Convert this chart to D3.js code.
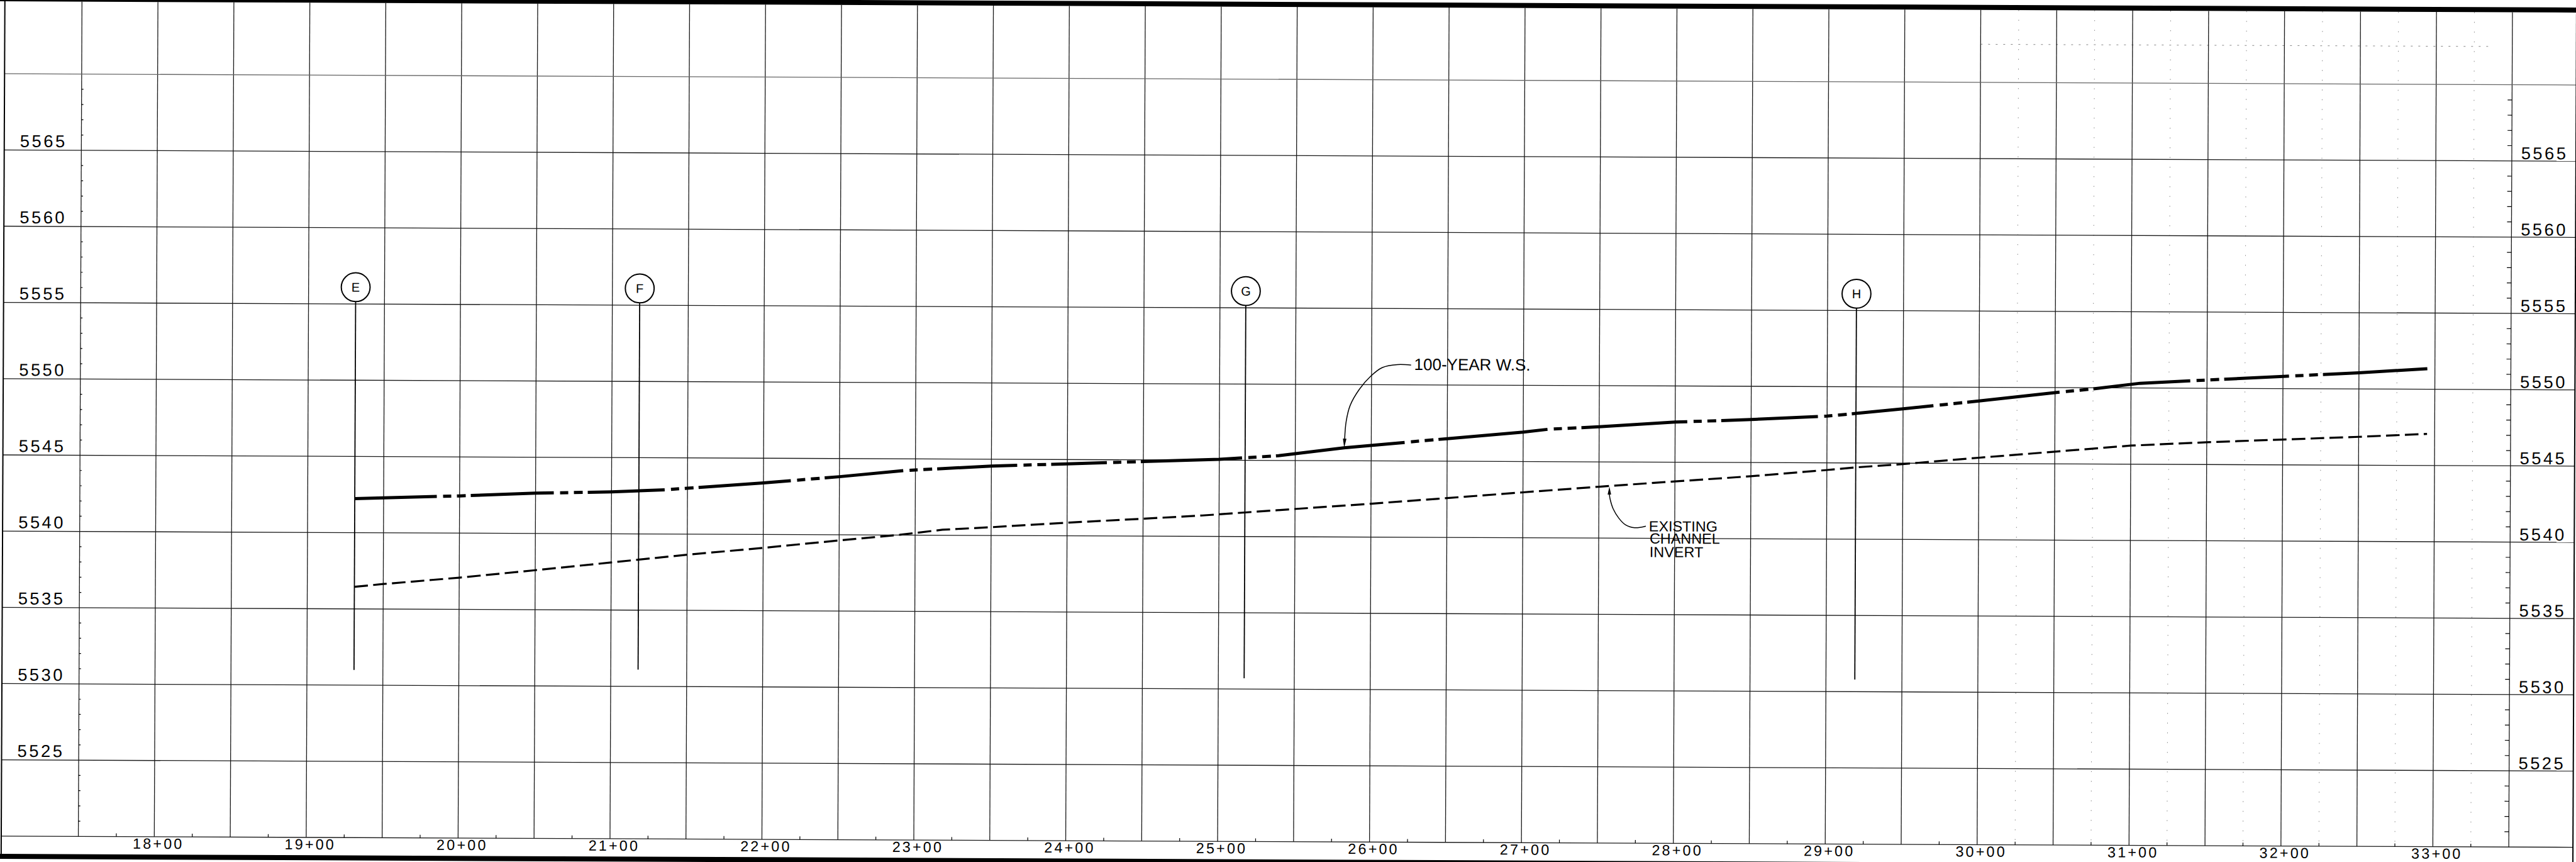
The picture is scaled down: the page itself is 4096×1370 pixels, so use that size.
<!DOCTYPE html>
<html>
<head>
<meta charset="utf-8">
<script src="https://cdn.jsdelivr.net/npm/d3@7"></script>
<style>
  html, body { margin: 0; padding: 0; background: #fff; }
  svg { display: block; }
  text { font-family: "Liberation Sans", Arial, sans-serif; fill: #000; }
</style>
</head>
<body>
<div id="chart"></div>
<script>
// ---------------------------------------------------------------
// DATA  (stations in feet: 17+50 -> 1750, elevations in feet)
// ---------------------------------------------------------------
const stationLabels = [1800, 1900, 2000, 2100, 2200, 2300, 2400, 2500,
                       2600, 2700, 2800, 2900, 3000, 3100, 3200, 3300];
const elevationLabels = [5525, 5530, 5535, 5540, 5545, 5550, 5555, 5560, 5565];

// 100-year water surface
const wsStation = [1931, 1950, 2000, 2050, 2100, 2135, 2200, 2250, 2292, 2350,
                   2400, 2450, 2500, 2517, 2539, 2582, 2650, 2700, 2717, 2750,
                   2800, 2850, 2900, 2919, 2950, 3000, 3050, 3077, 3106, 3150,
                   3200, 3250, 3295];
const wsElev    = [5542.23, 5542.29, 5542.44, 5542.64, 5542.75, 5542.90, 5543.38, 5543.81, 5544.23, 5544.55,
                   5544.72, 5544.89, 5545.06, 5545.17, 5545.31, 5545.85, 5546.48, 5546.93, 5547.13, 5547.30,
                   5547.63, 5547.82, 5548.07, 5548.25, 5548.57, 5549.10, 5549.67, 5549.95, 5550.31, 5550.54,
                   5550.80, 5551.06, 5551.35];
// stations where the heavy line breaks into its short dashes
const wsBreaks = [1985, 2062, 2135, 2218, 2292, 2367, 2426, 2515, 2622, 2716,
                  2808, 2894, 2970, 3053, 3139, 3204];

// existing channel invert
const invStation = [1931, 1950, 2000, 2050, 2100, 2150, 2200, 2250, 2290, 2318,
                    2350, 2400, 2450, 2489, 2517, 2600, 2650, 2700, 2750, 2800,
                    2850, 2900, 2919, 2950, 3000, 3050, 3100, 3150, 3200, 3250, 3295];
const invElev    = [5536.45, 5536.64, 5537.08, 5537.59, 5538.12, 5538.65, 5539.12, 5539.63, 5540.02, 5540.36,
                    5540.54, 5540.86, 5541.14, 5541.37, 5541.58, 5542.19, 5542.58, 5542.98, 5543.37, 5543.74,
                    5544.10, 5544.53, 5544.71, 5544.94, 5545.38, 5545.80, 5546.22, 5546.46, 5546.66, 5546.86, 5547.07];

// cross-section markers
const sectionNames   = ["E", "F", "G", "H"];
const sectionStation = [1931, 2118, 2517, 2919];
const sectionBottom  = [5531.0, 5531.1, 5530.7, 5530.8];
const bubbleElev = 5556.1;

// callouts
const wsLabel = "100-YEAR W.S.";
const wsLabelAt = [2628, 5550.97];
const wsLeaderStation = [2626, 2617, 2607, 2599.4, 2592, 2586, 2583.4, 2582.5];
const wsLeaderElev    = [5551.29, 5551.32, 5551.12, 5550.55, 5549.69, 5548.63, 5547.57, 5546.45];
const wsArrowTip = [2582.2, 5545.85];

const invLabel = ["EXISTING", "CHANNEL", "INVERT"];
const invLabelStation = [2783, 2783.5, 2783.5];
const invLabelElev = [5540.46, 5539.66, 5538.77];
const invLeaderStation = [2781, 2773.6, 2767.6, 2763.2, 2759.5, 2757.5, 2756.9];
const invLeaderElev    = [5540.80, 5540.69, 5540.88, 5541.31, 5541.91, 5542.52, 5542.86];
const invArrowTip = [2756.9, 5543.38];

// ---------------------------------------------------------------
// LAYOUT
// ---------------------------------------------------------------
const W = 4096, H = 1370;
const tilt = 0.25;              // the scanned sheet is turned a little
const frameLeft = 4.8, frameRight = 4094, frameTop = 11;

const x = d3.scaleLinear().domain([1750, 3350]).range([127.4, 3992.0]);
const y = d3.scaleLinear().domain([5520, 5570]).range([1337.7, 126.1]);

const fmtStation = s => `${Math.floor(s / 100)}+${String(s % 100).padStart(2, "0")}`;

const svg = d3.select("#chart").append("svg")
    .attr("width", W).attr("height", H)
    .attr("viewBox", `0 0 ${W} ${H}`);
svg.append("rect").attr("width", W).attr("height", H).attr("fill", "#fff");

const g = svg.append("g").attr("transform", `rotate(${tilt} ${W / 2} ${H / 2})`);

// =====================
// GRID
// =====================
const gridStations = d3.range(1750, 3351, 50);
const gridElevs = d3.range(5520, 5571, 5);

// faint quarter-station dots on the right part of the sheet
const faintStations = d3.range(3025, 3326, 50);
g.append("g").selectAll("line").data(faintStations).join("line")
    .attr("x1", d => x(d)).attr("x2", d => x(d))
    .attr("y1", frameTop).attr("y2", y(5520))
    .attr("stroke", "#888").attr("stroke-width", 1)
    .attr("stroke-dasharray", "1.5 14");
g.append("line")
    .attr("x1", x(3000)).attr("x2", x(3335))
    .attr("y1", y(5572.5)).attr("y2", y(5572.5))
    .attr("stroke", "#888").attr("stroke-width", 1)
    .attr("stroke-dasharray", "3 9");

g.append("g").selectAll("line").data(gridStations).join("line")
    .attr("x1", d => x(d)).attr("x2", d => x(d))
    .attr("y1", frameTop).attr("y2", y(5520))
    .attr("stroke", "#1a1a1a").attr("stroke-width", 1.3);

g.append("g").selectAll("line").data(gridElevs).join("line")
    .attr("x1", frameLeft).attr("x2", frameRight)
    .attr("y1", d => y(d)).attr("y2", d => y(d))
    .attr("stroke", d => d === 5570 ? "#666" : "#1a1a1a")
    .attr("stroke-width", 1.3);

// small foot ticks on the edge lines and along the bottom
const footTicks = d3.range(5521, 5570, 1).filter(e => e % 5 !== 0);
g.append("g").selectAll("line").data(footTicks).join("line")
    .attr("x1", x(1750)).attr("x2", x(1750) + 3)
    .attr("y1", d => y(d)).attr("y2", d => y(d))
    .attr("stroke", "#000").attr("stroke-width", 1.2);
g.append("g").selectAll("line").data(footTicks).join("line")
    .attr("x1", x(3350) - 7).attr("x2", x(3350))
    .attr("y1", d => y(d)).attr("y2", d => y(d))
    .attr("stroke", "#000").attr("stroke-width", 1.2);
g.append("g").selectAll("line").data(d3.range(1775, 3350, 50)).join("line")
    .attr("x1", d => x(d)).attr("x2", d => x(d))
    .attr("y1", y(5520) - 5).attr("y2", y(5520))
    .attr("stroke", "#000").attr("stroke-width", 1.2);

// =====================
// SHEET BORDER
// =====================
g.append("line").attr("x1", -60).attr("x2", W + 60).attr("y1", 7).attr("y2", 7)
    .attr("stroke", "#000").attr("stroke-width", 8);
g.append("line").attr("x1", -60).attr("x2", W + 60).attr("y1", 1370).attr("y2", 1370)
    .attr("stroke", "#000").attr("stroke-width", 8);
g.append("line").attr("x1", frameLeft).attr("x2", frameLeft).attr("y1", -20).attr("y2", 1370)
    .attr("stroke", "#000").attr("stroke-width", 2);
g.append("line").attr("x1", frameRight).attr("x2", frameRight).attr("y1", -20).attr("y2", 1370)
    .attr("stroke", "#000").attr("stroke-width", 2);

// =====================
// AXES (labels only)
// =====================
const xAxis = g.append("g")
    .attr("transform", `translate(0,${y(5520)})`)
    .call(d3.axisBottom(x).tickValues(stationLabels).tickFormat(fmtStation).tickSize(0));
xAxis.select(".domain").remove();
xAxis.selectAll("text")
    .attr("x", 6).attr("y", 19).attr("dy", null)
    .style("font-size", "23.3px").style("letter-spacing", "3.2px")
    .style("font-family", "'Liberation Sans', Arial, sans-serif");

function elevAxis(axisFn, cx, lift) {
    const a = g.append("g")
        .attr("transform", `translate(${cx},0)`)
        .call(axisFn(y).tickValues(elevationLabels).tickFormat(d3.format("d")).tickSize(0));
    a.select(".domain").remove();
    a.selectAll("text")
        .attr("x", 1.75).attr("y", -lift).attr("dy", null)
        .attr("text-anchor", "middle")
        .style("font-size", "27.3px").style("letter-spacing", "3.5px")
        .style("font-family", "'Liberation Sans', Arial, sans-serif");
}
elevAxis(d3.axisLeft, 65.5, 5.3);
elevAxis(d3.axisRight, 4042.4, 3.2);

// =====================
// SECTION MARKERS
// =====================
const bubbleR = 22.9;
sectionNames.forEach((name, i) => {
    const sx = x(sectionStation[i]);
    g.append("line")
        .attr("x1", sx).attr("x2", sx)
        .attr("y1", y(bubbleElev) + bubbleR).attr("y2", y(sectionBottom[i]))
        .attr("stroke", "#000").attr("stroke-width", 1.8);
    g.append("circle")
        .attr("cx", sx).attr("cy", y(bubbleElev)).attr("r", bubbleR)
        .attr("fill", "#fff").attr("stroke", "#000").attr("stroke-width", 2);
    g.append("text")
        .attr("x", sx).attr("y", y(bubbleElev)).attr("dy", "0.36em")
        .attr("text-anchor", "middle")
        .style("font-size", "20px")
        .text(name);
});

// =====================
// PROFILE LINES
// =====================
const line = d3.line().x(d => x(d[0])).y(d => y(d[1]));

g.append("path")
    .datum(d3.zip(invStation, invElev))
    .attr("d", line)
    .attr("fill", "none").attr("stroke", "#000")
    .attr("stroke-width", 3.2)
    .attr("stroke-dasharray", "21.6 8.4");

// heavy line: long solid runs broken by two short dashes at each break
const wsData = d3.zip(wsStation, wsElev);
const wsPts = wsData.map(d => [x(d[0]), y(d[1])]);
function lengthAt(px) {
    let L = 0;
    for (let i = 1; i < wsPts.length; i++) {
        const [x0, y0] = wsPts[i - 1], [x1, y1] = wsPts[i];
        const seg = Math.hypot(x1 - x0, y1 - y0);
        if (px <= x1) return L + seg * (px - x0) / (x1 - x0);
        L += seg;
    }
    return L;
}
const breakPattern = [10, 13, 9, 14, 8];
const breakLen = d3.sum(breakPattern);
const wsDash = [];
let cursor = 0;
wsBreaks.forEach(b => {
    const L = lengthAt(x(b));
    wsDash.push(L - cursor, ...breakPattern);
    cursor = L + breakLen;
});
wsDash.push(lengthAt(x(wsStation[wsStation.length - 1])) - cursor + 50, 50);

g.append("path")
    .datum(wsData)
    .attr("d", line)
    .attr("fill", "none").attr("stroke", "#000")
    .attr("stroke-width", 5)
    .attr("stroke-dasharray", wsDash.map(v => v.toFixed(1)).join(" "));

// =====================
// CALLOUTS
// =====================
const leader = d3.line().x(d => x(d[0])).y(d => y(d[1])).curve(d3.curveCatmullRom.alpha(0.5));

function arrowHead(base, tip, halfW) {
    const bx = x(base[0]), by = y(base[1]);
    const tx = x(tip[0]), ty = y(tip[1]);
    const len = Math.hypot(tx - bx, ty - by);
    const nx = -(ty - by) / len, ny = (tx - bx) / len;
    g.append("path")
        .attr("d", `M${tx},${ty}L${bx + nx * halfW},${by + ny * halfW}L${bx - nx * halfW},${by - ny * halfW}Z`)
        .attr("fill", "#000");
}

const wsLeader = d3.zip(wsLeaderStation, wsLeaderElev);
g.append("path").datum(wsLeader).attr("d", leader)
    .attr("fill", "none").attr("stroke", "#000").attr("stroke-width", 1.5);
arrowHead(wsLeader[wsLeader.length - 1], wsArrowTip, 2.8);
g.append("text")
    .attr("x", x(wsLabelAt[0])).attr("y", y(wsLabelAt[1]))
    .style("font-size", "26px")
    .text(wsLabel);

const invLeader = d3.zip(invLeaderStation, invLeaderElev);
g.append("path").datum(invLeader).attr("d", leader)
    .attr("fill", "none").attr("stroke", "#000").attr("stroke-width", 1.5);
arrowHead(invLeader[invLeader.length - 1], invArrowTip, 2.8);
invLabel.forEach((t, i) => {
    g.append("text")
        .attr("x", x(invLabelStation[i])).attr("y", y(invLabelElev[i]))
        .style("font-size", "23.4px")
        .text(t);
});
</script>
</body>
</html>
